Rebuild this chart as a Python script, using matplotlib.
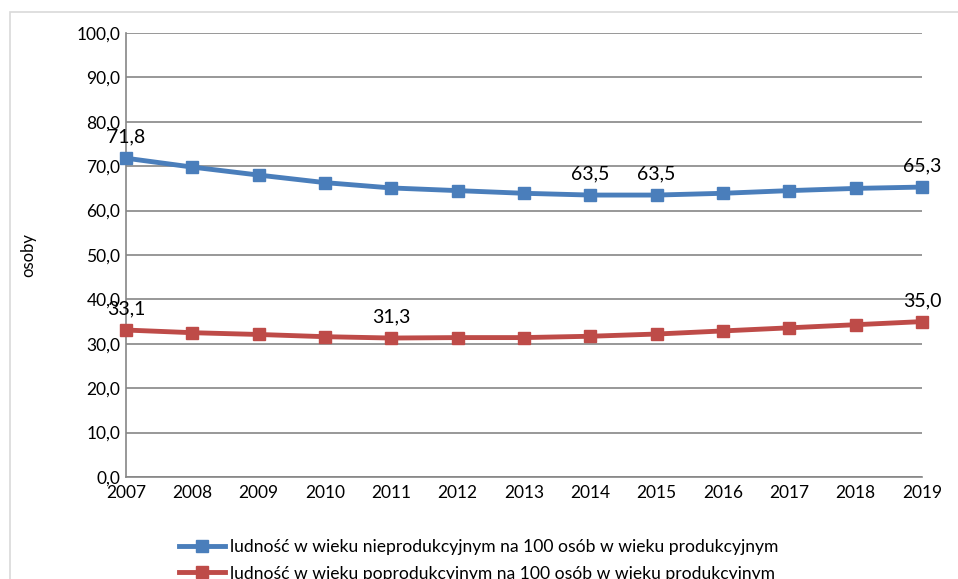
import matplotlib.pyplot as plt
from matplotlib.patches import Rectangle

years = list(range(2007, 2020))
niepro = [71.8, 69.8, 68.0, 66.3, 65.1, 64.5, 63.9, 63.5, 63.5, 63.9, 64.5, 65.0, 65.3]
popro = [33.1, 32.5, 32.1, 31.6, 31.3, 31.4, 31.4, 31.7, 32.2, 32.9, 33.6, 34.3, 35.0]
label_niepro = "ludność w wieku nieprodukcyjnym na 100 osób w wieku produkcyjnym"
label_popro = "ludność w wieku poprodukcyjnym na 100 osób w wieku produkcyjnym"
yticks = [0, 10, 20, 30, 40, 50, 60, 70, 80, 90, 100]

plt.rcParams['font.family'] = ['Lato', 'DejaVu Sans']

fig = plt.figure(figsize=(9.58, 5.79), dpi=100)
fig.patches.append(Rectangle((10 / 958, -0.1), 1.1, 1 - 12 / 579 + 0.1,
                             transform=fig.transFigure, fill=False,
                             edgecolor='#d9d9d9', linewidth=1.2))
ax = fig.add_axes([126 / 958, 1 - 477 / 579, (922 - 126) / 958, (477 - 33) / 579])

blue = '#4a7ebb'
red = '#be4b48'
ax.plot(years, niepro, color=blue, lw=3.5, marker='s', ms=9, label=label_niepro, clip_on=False, zorder=3)
ax.plot(years, popro, color=red, lw=3.5, marker='s', ms=9, label=label_popro, clip_on=False, zorder=3)

ax.set_xlim(2007, 2019)
ax.set_ylim(0, 100)
ax.set_yticks(yticks)
ax.set_yticklabels([f"{v:.1f}".replace('.', ',') for v in yticks])
ax.set_xticks(years)
ax.grid(axis='y', color='#868686', lw=1.2)
ax.set_axisbelow(True)
for s in ['top', 'right']:
    ax.spines[s].set_visible(False)
for s in ['left', 'bottom']:
    ax.spines[s].set_color('#868686')
    ax.spines[s].set_linewidth(1.2)
ax.tick_params(length=0, labelsize=12.5, pad=4)
ax.tick_params(axis='x', pad=6)
ax.set_ylabel('osoby', fontsize=12, labelpad=29)

# podpisy danych
for i in [0, 7, 8, 12]:
    ax.annotate(f"{niepro[i]:.1f}".replace('.', ','), (years[i], niepro[i]),
                xytext=(0, 9), textcoords='offset points', ha='center', va='bottom', fontsize=14)
for i in [0, 4, 12]:
    ax.annotate(f"{popro[i]:.1f}".replace('.', ','), (years[i], popro[i]),
                xytext=(0, 9), textcoords='offset points', ha='center', va='bottom', fontsize=14)

fig.legend(loc='upper center', bbox_to_anchor=(0.5, 1 - 532 / 579), frameon=False,
           fontsize=12.6, handlelength=2.6, labelspacing=0.6, borderaxespad=0, handletextpad=0.3)

fig.savefig('out.png', dpi=100)
